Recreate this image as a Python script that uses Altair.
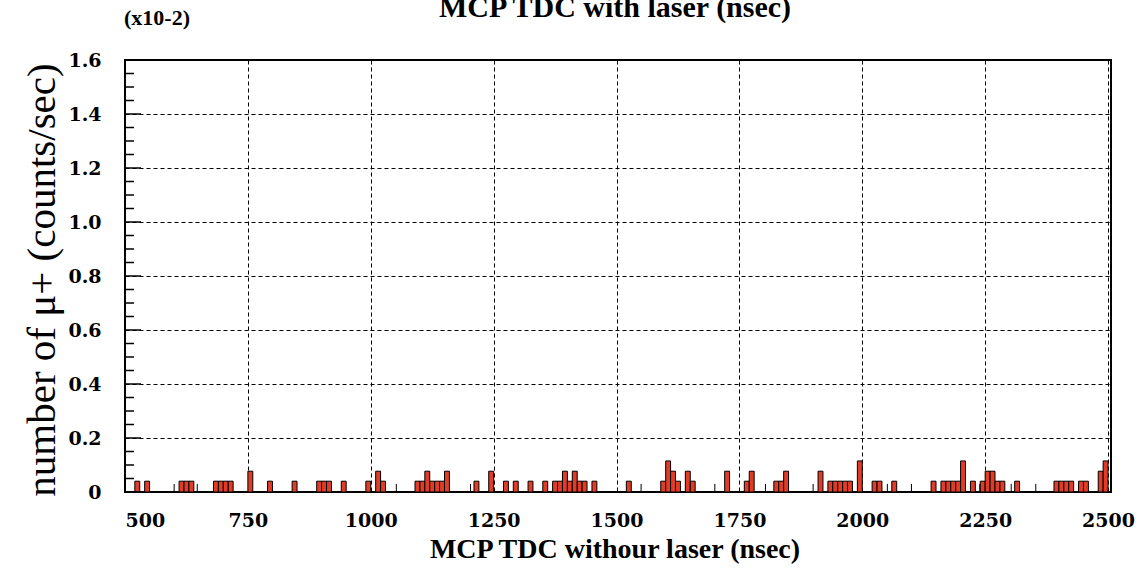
import altair as alt
import pandas as pd

# ---- data (rate in units of 1e-2 counts/sec) ----
bin_start = [520, 540, 610, 620, 630, 680, 690, 700, 710, 750, 790, 840, 890, 900, 910,
             940, 990, 1010, 1020, 1090, 1100, 1110, 1120, 1130, 1140, 1150, 1210, 1240,
             1270, 1290, 1320, 1350, 1370, 1380, 1390, 1400, 1410, 1420, 1430, 1450, 1520,
             1590, 1600, 1610, 1620, 1640, 1650, 1720, 1760, 1770, 1820, 1830, 1840, 1910,
             1930, 1940, 1950, 1960, 1970, 1990, 2020, 2030, 2060, 2140, 2160, 2170, 2180,
             2190, 2200, 2220, 2240, 2250, 2260, 2270, 2280, 2310, 2390, 2400, 2410, 2420,
             2440, 2450, 2480, 2490]
bin_rate = [0.04, 0.04, 0.04, 0.04, 0.04, 0.04, 0.04, 0.04, 0.04, 0.077, 0.04, 0.04, 0.04, 0.04, 0.04,
            0.04, 0.04, 0.077, 0.04, 0.04, 0.04, 0.077, 0.04, 0.04, 0.04, 0.077, 0.04, 0.077,
            0.04, 0.04, 0.04, 0.04, 0.04, 0.04, 0.077, 0.04, 0.077, 0.04, 0.04, 0.04, 0.04,
            0.04, 0.115, 0.077, 0.04, 0.077, 0.04, 0.077, 0.04, 0.077, 0.04, 0.04, 0.077, 0.077,
            0.04, 0.04, 0.04, 0.04, 0.04, 0.115, 0.04, 0.04, 0.04, 0.04, 0.04, 0.04, 0.04,
            0.04, 0.115, 0.04, 0.04, 0.077, 0.077, 0.04, 0.04, 0.04, 0.04, 0.04, 0.04, 0.04,
            0.04, 0.04, 0.077, 0.115]
BIN_WIDTH = 10

spike_pos = [600, 647, 1052, 1203, 1550, 1700, 1803, 1900, 2051, 2100, 2239, 2303, 2353]
spike_rate = [0.03] * len(spike_pos)

x_ticks = [500, 750, 1000, 1250, 1500, 1750, 2000, 2250, 2500]
y_ticks = [0, 0.2, 0.4, 0.6, 0.8, 1.0, 1.2, 1.4, 1.6]
y_minor = [0.05, 0.1, 0.15, 0.25, 0.3, 0.35, 0.45, 0.5, 0.55, 0.65, 0.7, 0.75, 0.85, 0.9,
           0.95, 1.05, 1.1, 1.15, 1.25, 1.3, 1.35, 1.45, 1.5, 1.55]

title_text = "MCP TDC with laser (nsec)"
x_title = "MCP TDC withour laser (nsec)"
y_title = "number of \u03bc+ (counts/sec)"
scale_text = "(x10-2)"

# ---- layout ----
W, H = 986, 432
FONT = "Liberation Serif"
TICK_FONT = "DejaVu Serif"

bars_df = pd.DataFrame({"start": bin_start,
                        "end": [s + BIN_WIDTH for s in bin_start],
                        "rate": bin_rate,
                        "base": [0.0] * len(bin_start)})
spikes_df = pd.DataFrame({"pos": spike_pos, "rate": spike_rate})
minor_df = pd.DataFrame({"v": y_minor})
major_df = pd.DataFrame({"v": y_ticks})

xs = alt.Scale(domain=[500, 2506], nice=False, zero=False)
ys = alt.Scale(domain=[0, 1.6], nice=False, zero=False)

x_axis = alt.Axis(values=x_ticks, format="d", title=None, grid=True,
                  gridDash=[4, 3], gridColor="black", gridOpacity=1, gridWidth=1,
                  ticks=False, domain=False, labelFont=TICK_FONT, labelFontSize=19,
                  labelFontWeight="bold", labelColor="black", labelPadding=19,
                  labelOverlap=False)
y_axis = alt.Axis(values=y_ticks, title=None, grid=True,
                  gridDash=[4, 3], gridColor="black", gridOpacity=1, gridWidth=1,
                  ticks=False, domain=False, labelFont=TICK_FONT, labelFontSize=19,
                  labelFontWeight="bold", labelColor="black", labelPadding=24,
                  labelOverlap=False,
                  labelExpr="datum.value == 0 ? '0' : format(datum.value, '.1f')")

bars = alt.Chart(bars_df).mark_bar(
    color="#e23c27", stroke="black", strokeWidth=1, opacity=1
).encode(
    x=alt.X("start:Q", scale=xs, axis=x_axis),
    x2="end:Q",
    y=alt.Y("rate:Q", scale=ys, axis=y_axis),
    y2="base:Q",
)

spikes = alt.Chart(spikes_df).mark_rule(color="black", strokeWidth=1).encode(
    x=alt.X("pos:Q", scale=xs, axis=x_axis),
    y=alt.Y("rate:Q", scale=ys, axis=y_axis),
    y2=alt.value(H),
)

minor_ticks = alt.Chart(minor_df).mark_rule(color="black", strokeWidth=1.5).encode(
    y=alt.Y("v:Q", scale=ys, axis=y_axis),
    x=alt.value(0), x2=alt.value(9),
)
major_ticks = alt.Chart(major_df).mark_rule(color="black", strokeWidth=1.5).encode(
    y=alt.Y("v:Q", scale=ys, axis=y_axis),
    x=alt.value(0), x2=alt.value(16),
)

def label(text, x, y, size, weight="bold", angle=0, baseline="middle"):
    kw = dict(font=FONT, fontSize=size, fontWeight=weight, color="black",
              align="center", baseline=baseline)
    if angle:
        kw["angle"] = angle
    return alt.Chart(pd.DataFrame({"t": [text]})).mark_text(**kw).encode(
        x=alt.value(x), y=alt.value(y), text="t:N")

title = label(title_text, W / 2 - 3, -43, 30, baseline="alphabetic")
scale_lbl = label(scale_text, 32, -42, 22)
xt = label(x_title, W / 2 - 3, 490, 28)
yt = label(y_title, -82, H / 2 + 4, 41, weight="normal", angle=270)

chart = alt.layer(bars, spikes, minor_ticks, major_ticks, title, scale_lbl, xt, yt).properties(
    width=W, height=H,
    autosize=alt.AutoSizeParams(type="none"),
    padding={"left": 125, "top": 60, "right": 28, "bottom": 86},
    background="white",
).configure_view(stroke="black", strokeWidth=2)

chart.save("out.html", embed_options={"renderer": "svg", "actions": False})
